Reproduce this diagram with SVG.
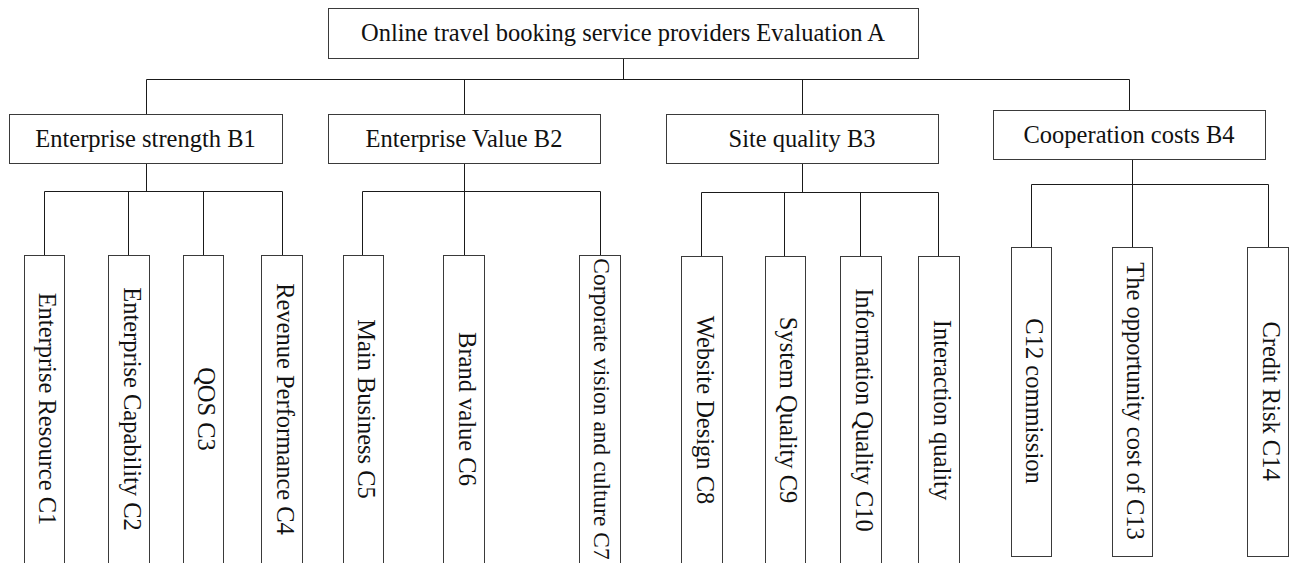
<svg xmlns="http://www.w3.org/2000/svg" width="1293" height="563" viewBox="0 0 1293 563">
  <style>
    .box { fill: #ffffff; stroke: #3a3a3a; stroke-width: 1; }
    .link { fill: none; stroke: #1a1a1a; stroke-width: 1; }
    .lbl { font-family: "Liberation Serif", "Times New Roman", serif; font-size: 24.5px; fill: #111111; text-anchor: middle; }
    .tight { font-size: 23.5px; }
  </style>
  <rect width="1293" height="563" fill="#ffffff"/>

  <!-- connectors -->
  <g id="connectors" class="link">
    <!-- A to criteria -->
    <path d="M623.5 58 V79.5"/>
    <path d="M146.5 79.5 H1129.5"/>
    <path d="M146.5 79.5 V114"/>
    <path d="M464.5 79.5 V114"/>
    <path d="M802.5 79.5 V114"/>
    <path d="M1129.5 79.5 V110"/>
    <!-- B1 to C1..C4 -->
    <path d="M146.5 163 V191.5"/>
    <path d="M44.5 191.5 H282.5"/>
    <path d="M44.5 191.5 V255"/>
    <path d="M128.5 191.5 V255"/>
    <path d="M203.5 191.5 V255"/>
    <path d="M282.5 191.5 V255"/>
    <!-- B2 to C5..C7 -->
    <path d="M464.5 163 V255"/>
    <path d="M362.5 191.5 H600.5"/>
    <path d="M362.5 191.5 V255"/>
    <path d="M600.5 191.5 V255"/>
    <!-- B3 to C8..C11 -->
    <path d="M802.5 163 V192.5"/>
    <path d="M701.5 192.5 H938.5"/>
    <path d="M701.5 192.5 V256"/>
    <path d="M784.5 192.5 V256"/>
    <path d="M860.5 192.5 V256"/>
    <path d="M938.5 192.5 V256"/>
    <!-- B4 to C12..C14 -->
    <path d="M1132.5 156 V247"/>
    <path d="M1031.5 184.5 H1268.5"/>
    <path d="M1031.5 184.5 V247"/>
    <path d="M1268.5 184.5 V247"/>
  </g>

  <!-- goal -->
  <g id="A">
    <rect class="box" x="328.5" y="8.5" width="590" height="50"/>
    <text class="lbl" x="623" y="41">Online travel booking service providers Evaluation A</text>
  </g>

  <!-- criteria -->
  <g id="B1">
    <rect class="box" x="9.5" y="114.5" width="273" height="49"/>
    <text class="lbl" x="145.5" y="147">Enterprise strength B1</text>
  </g>
  <g id="B2">
    <rect class="box" x="328.5" y="114.5" width="272" height="49"/>
    <text class="lbl" x="464" y="147">Enterprise Value B2</text>
  </g>
  <g id="B3">
    <rect class="box" x="666.5" y="114.5" width="272" height="49"/>
    <text class="lbl" x="802" y="147">Site quality B3</text>
  </g>
  <g id="B4">
    <rect class="box" x="993.5" y="110.5" width="272" height="49"/>
    <text class="lbl" x="1129" y="143">Cooperation costs B4</text>
  </g>

  <!-- sub-criteria -->
  <g id="C1">
    <rect class="box" x="24.5" y="255.5" width="40" height="320"/>
    <text class="lbl" transform="translate(39,409) rotate(90)">Enterprise Resource C1</text>
  </g>
  <g id="C2">
    <rect class="box" x="108.5" y="255.5" width="41" height="320"/>
    <text class="lbl" transform="translate(123.5,409) rotate(90)">Enterprise Capability C2</text>
  </g>
  <g id="C3">
    <rect class="box" x="183.5" y="255.5" width="40" height="320"/>
    <text class="lbl" transform="translate(198,409) rotate(90)">QOS C3</text>
  </g>
  <g id="C4">
    <rect class="box" x="261.5" y="255.5" width="41" height="320"/>
    <text class="lbl" transform="translate(276.5,409) rotate(90)">Revenue Performance C4</text>
  </g>
  <g id="C5">
    <rect class="box" x="343.5" y="255.5" width="40" height="320"/>
    <text class="lbl" transform="translate(358,409) rotate(90)">Main Business C5</text>
  </g>
  <g id="C6">
    <rect class="box" x="443.5" y="255.5" width="41" height="320"/>
    <text class="lbl" transform="translate(458.5,409) rotate(90)">Brand value C6</text>
  </g>
  <g id="C7">
    <rect class="box" x="579.5" y="255.5" width="41" height="320"/>
    <text class="lbl tight" transform="translate(593.5,409) rotate(90)">Corporate vision and culture C7</text>
  </g>
  <g id="C8">
    <rect class="box" x="681.5" y="256.5" width="41" height="320"/>
    <text class="lbl" transform="translate(696.5,410) rotate(90)">Website Design C8</text>
  </g>
  <g id="C9">
    <rect class="box" x="765.5" y="256.5" width="40" height="320"/>
    <text class="lbl" transform="translate(780,410) rotate(90)">System Quality C9</text>
  </g>
  <g id="C10">
    <rect class="box" x="840.5" y="256.5" width="41" height="320"/>
    <text class="lbl" transform="translate(855.5,410) rotate(90)">Information Quality C10</text>
  </g>
  <g id="C11">
    <rect class="box" x="918.5" y="256.5" width="41" height="320"/>
    <text class="lbl" transform="translate(933.5,410) rotate(90)">Interaction quality</text>
  </g>
  <g id="C12">
    <rect class="box" x="1011.5" y="247.5" width="40" height="309"/>
    <text class="lbl" transform="translate(1026,401) rotate(90)">C12 commission</text>
  </g>
  <g id="C13">
    <rect class="box" x="1112.5" y="247.5" width="40" height="309"/>
    <text class="lbl" transform="translate(1127,401) rotate(90)">The opportunity cost of C13</text>
  </g>
  <g id="C14">
    <rect class="box" x="1247.5" y="247.5" width="41" height="309"/>
    <text class="lbl" transform="translate(1262.5,401) rotate(90)">Credit Risk C14</text>
  </g>
</svg>
